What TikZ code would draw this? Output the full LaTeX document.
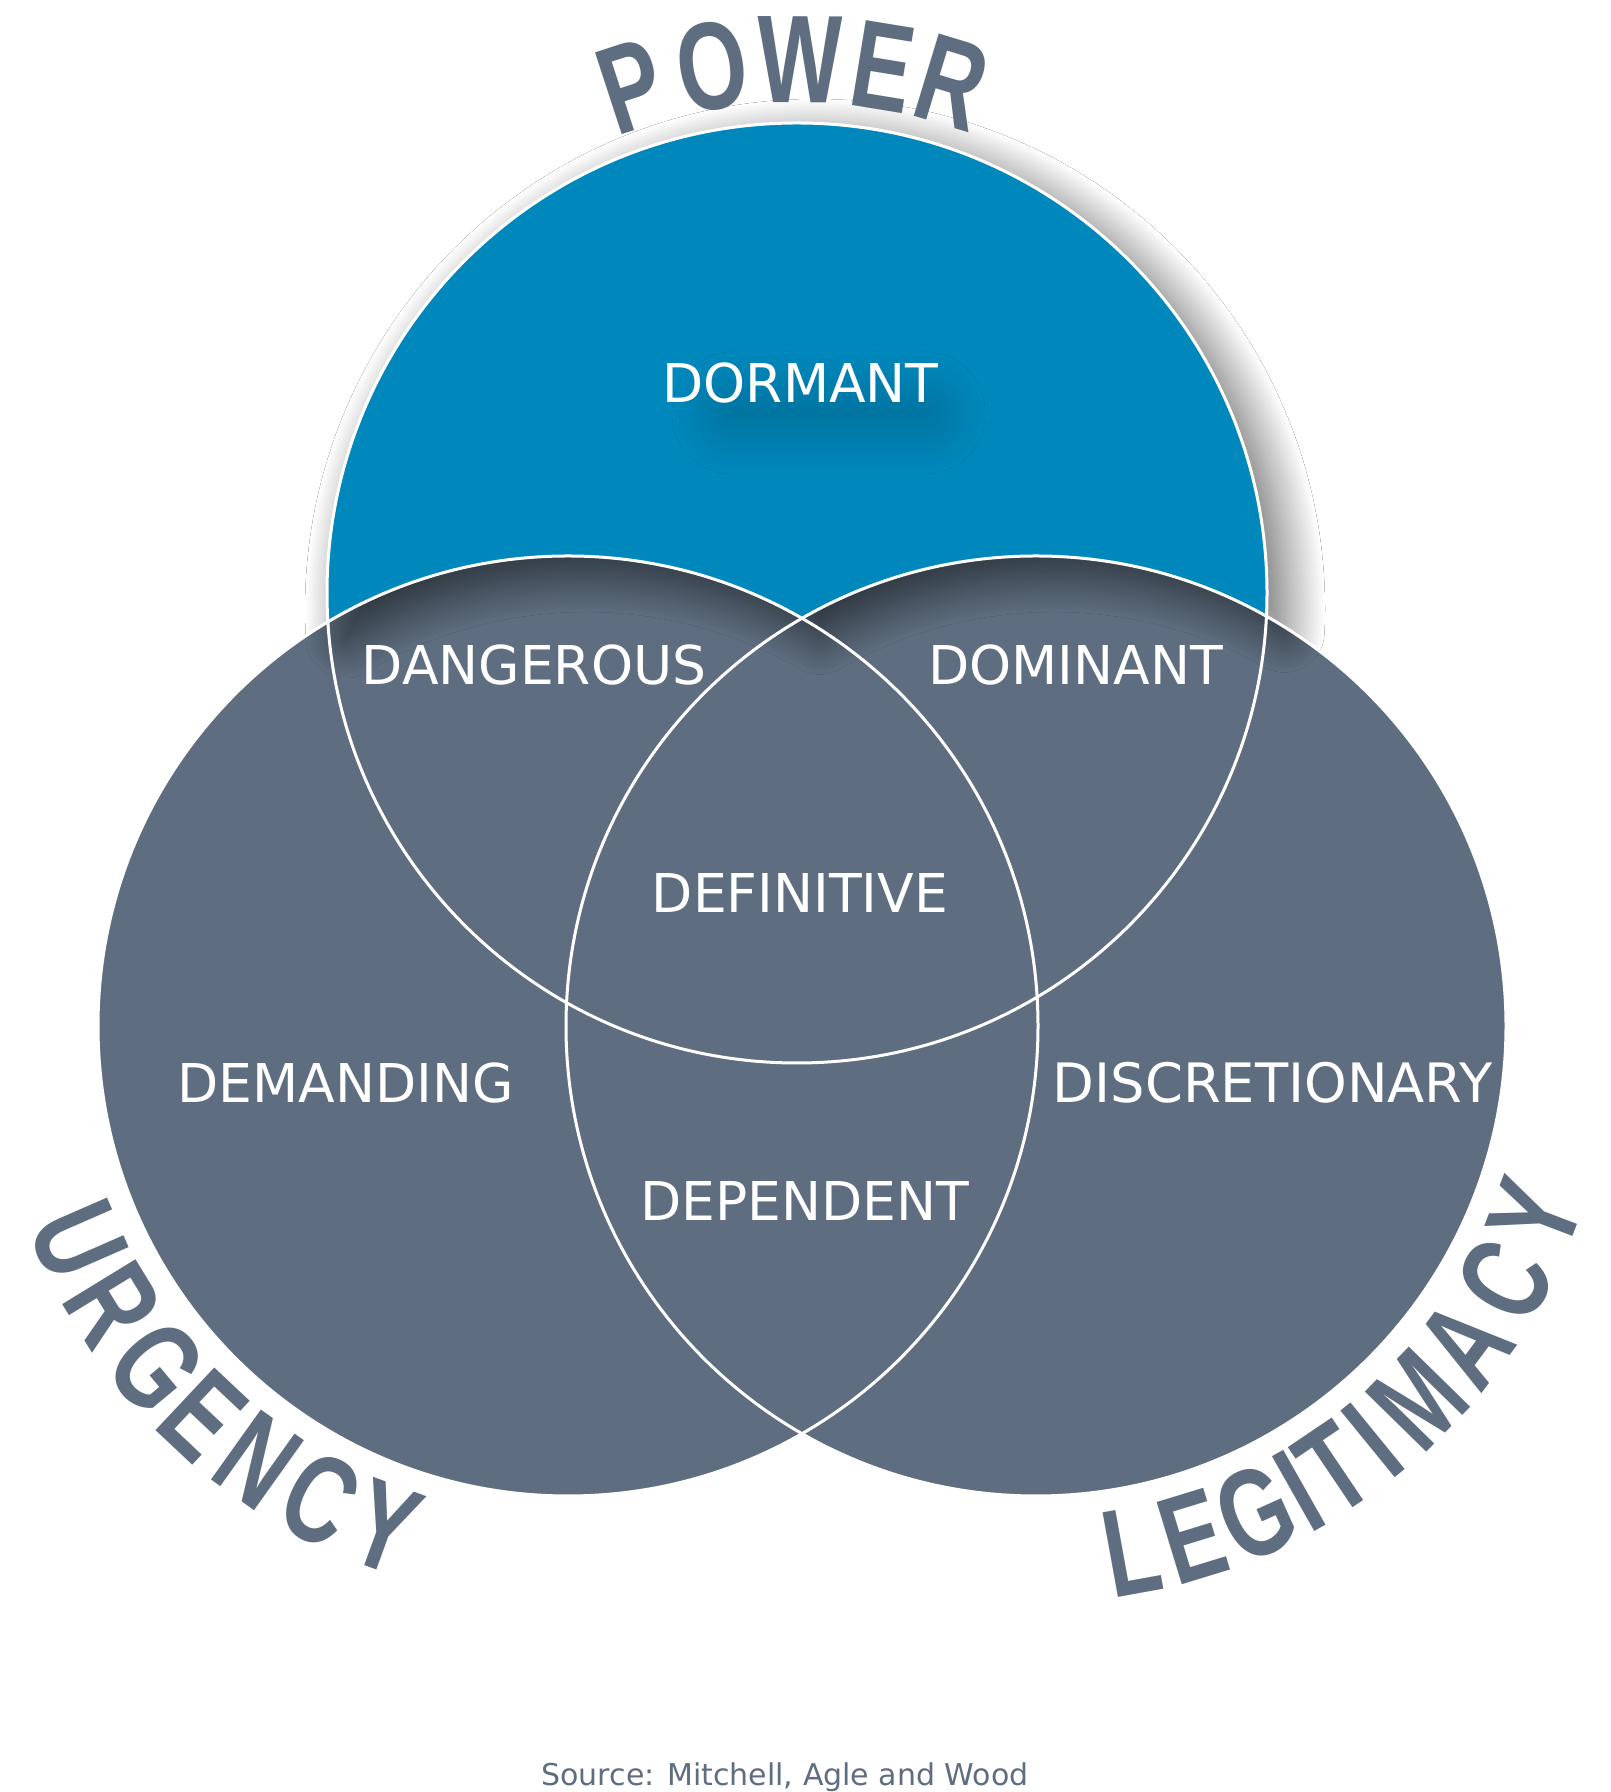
\documentclass[tikz,border=0pt]{standalone}
\usepackage{fontspec}
\setmainfont{DejaVu Sans}
\newfontfamily\titlefont[FakeStretch=0.72]{Liberation Sans Bold}
\usetikzlibrary{calc,shadows.blur}
\definecolor{vgrey}{HTML}{5E6E80}
\definecolor{vblue}{HTML}{0088BC}
\begin{document}
\begin{tikzpicture}[x=1pt,y=1pt,
  lbl/.style={text=white, font=\fontsize{53.5}{60}\selectfont, anchor=base, inner sep=0pt},
  ttl/.style={text=vgrey, font=\titlefont\fontsize{125}{130}\selectfont, anchor=base, inner sep=0pt},
  ring/.style={draw=white, line width=3pt}]
\useasboundingbox (0,0) rectangle (1611,1792);
\fill[white] (0,0) rectangle (1611,1792);
\coordinate (T) at (797,1199);
\coordinate (L) at (568,766);
\coordinate (R) at (1036,766);
% grey circles
\fill[vgrey] (L) circle[radius=470];
\fill[vgrey] (R) circle[radius=470];
% blue crescent with drop shadow
\fill[vblue, blur shadow={shadow xshift=18pt, shadow yshift=-16pt, shadow blur radius=40pt, shadow opacity=60, shadow blur steps=50}]
  ($(T)+(-2.85:470)$) arc[start angle=-2.85, end angle=183.52, radius=470]
  arc[start angle=120.7, end angle=60.14, radius=470]
  arc[start angle=119.86, end angle=60.64, radius=470] -- cycle;
% soft shadow under DORMANT
\path[rounded corners=20pt, blur shadow={shadow xshift=0pt, shadow yshift=0pt, shadow blur radius=40pt, shadow opacity=18, shadow blur steps=40}]
  (712,1358) rectangle (945,1400);
% outlines
\draw[ring] (T) circle[radius=470];
\draw[ring] (L) circle[radius=470];
\draw[ring] (R) circle[radius=470];
% region labels
\node[lbl] (dormant) at (800.5,1389) {DORMANT};
\node[lbl] (dangerous) at (534,1107) {DANGEROUS};
\node[lbl] (dominant) at (1075.5,1107) {DOMINANT};
\node[lbl] (definitive) at (800,879) {DEFINITIVE};
\node[lbl] (demanding) at (345.5,689) {DEMANDING};
\node[lbl, font=\fontsize{54.3}{60}\selectfont] (discretionary) at (1272.5,689) {DISCRETIONARY};
\node[lbl] (dependent) at (804.5,571) {DEPENDENT};
% curved titles
\begin{scope}[shift={(T)}]
  \foreach \a/\c [count=\i] in {108.1/P, 99.2/O, 89.7/W, 80.7/E, 73.1/R}
    \node[ttl, rotate=\a-90] (pw\i) at (\a:490) {\c};
\end{scope}
\begin{scope}[shift={(L)}]
  \foreach \a/\c [count=\i] in {203.6/U, 211.5/R, 219.7/G, 226.8/E, 234.5/N, 242.4/C, 250.0/Y}
    \node[ttl, rotate=\a+90] (ur\i) at (\a:577) {\c};
\end{scope}
\begin{scope}[shift={(R)}]
  \foreach \a/\c [count=\i] in {280.3/L, 287.0/E, 294.3/G, 299.5/I, 304.0/T, 309.2/I, 315.6/M, 323.5/A, 331.5/C, 339.2/Y}
    \node[ttl, rotate=\a+90] (lg\i) at (\a:577) {\c};
\end{scope}
% source
\node[anchor=base, text=vgrey, font=\fontsize{30}{36}\selectfont, inner sep=0pt] (src) at (785,6) {Source: Mitchell, Agle and Wood};
\end{tikzpicture}
\end{document}
